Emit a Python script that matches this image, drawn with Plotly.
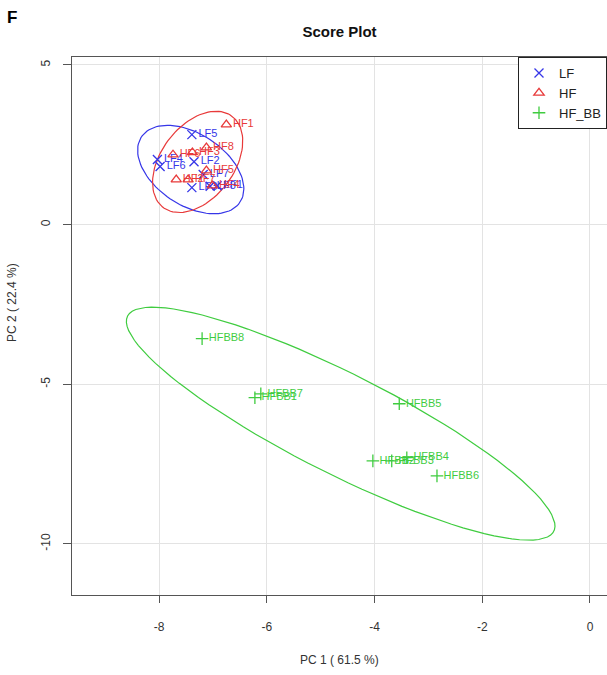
import numpy as np
import plotly.graph_objects as go

# PCA scores (PC1, PC2) per sample
lf_names = ["LF1", "LF2", "LF3", "LF4", "LF5", "LF6", "LF7", "LF8"]
lf_pc1 = [-6.92, -7.35, -7.39, -8.03, -7.39, -7.98, -7.18, -7.05]
lf_pc2 = [1.22, 1.97, 1.16, 2.04, 2.82, 1.82, 1.57, 1.20]

hf_names = ["HF1", "HF2", "HF3", "HF4", "HF5", "HF6", "HF7", "HF8"]
hf_pc1 = [-6.75, -7.68, -7.38, -7.01, -7.12, -7.74, -7.46, -7.12]
hf_pc2 = [3.13, 1.41, 2.26, 1.22, 1.69, 2.19, 1.41, 2.41]

bb_names = ["HFBB1", "HFBB2", "HFBB3", "HFBB4", "HFBB5", "HFBB6", "HFBB7", "HFBB8"]
bb_pc1 = [-6.22, -4.03, -3.68, -3.40, -3.54, -2.84, -6.11, -7.20]
bb_pc2 = [-5.42, -7.40, -7.40, -7.30, -5.61, -7.87, -5.30, -3.57]

x_ticks = [-8, -6, -4, -2, 0]
y_ticks = [5, 0, -5, -10]

COL_LF = "#3636E8"
COL_HF = "#E83A3A"
COL_BB = "#3FCC3F"
FONT = "Liberation Sans, Arial, sans-serif"

# plot area in pixels (left, top, right, bottom)
PL, PT, PR, PB = 72, 57, 607, 595
W, H = 607, 675


def px_x(px):
    return (px - PL) / (PR - PL)


def px_y(py):
    return (PB - py) / (PB - PT)


def conf_ellipse(x, y, level_t=np.sqrt(5.991464547), n=100):
    """95% confidence ellipse from the sample covariance (ellipse::ellipse style)."""
    x = np.asarray(x, float)
    y = np.asarray(y, float)
    cov = np.cov(x, y)
    sx, sy = np.sqrt(cov[0, 0]), np.sqrt(cov[1, 1])
    r = cov[0, 1] / (sx * sy)
    d = np.arccos(r)
    a = np.linspace(0, 2 * np.pi, n)
    ex = level_t * sx * np.cos(a + d / 2) + x.mean()
    ey = level_t * sy * np.cos(a - d / 2) + y.mean()
    return ex, ey


fig = go.Figure()

groups = [
    ("LF", lf_names, lf_pc1, lf_pc2, COL_LF, "x-thin-open"),
    ("HF", hf_names, hf_pc1, hf_pc2, COL_HF, "triangle-up-open"),
    ("HF_BB", bb_names, bb_pc1, bb_pc2, COL_BB, "cross-thin-open"),
]

for name, labels, px, py, col, sym in groups:
    ex, ey = conf_ellipse(px, py)
    fig.add_trace(go.Scatter(x=ex, y=ey, mode="lines", line=dict(color=col, width=1.2),
                             showlegend=False, hoverinfo="skip"))

for name, labels, px, py, col, sym in groups:
    fig.add_trace(go.Scatter(
        x=px, y=py, mode="markers+text", name=name, text=labels,
        textposition="middle right",
        textfont=dict(family=FONT, size=11, color=col),
        marker=dict(symbol=sym, size=9, color=col, line=dict(color=col, width=1.3)),
    ))

fig.update_layout(
    width=W, height=H,
    margin=dict(l=PL, r=W - PR, t=PT, b=H - PB),
    paper_bgcolor="white", plot_bgcolor="white",
    font=dict(family=FONT, color="#222"),
    title=dict(text="<b>Score Plot</b>", x=((PL + PR) / 2) / W, xanchor="center",
               y=1 - 32 / H, yanchor="middle", font=dict(size=15, color="#111")),
    legend=dict(x=1.0, xanchor="right", y=1, yanchor="top",
                bgcolor="white", bordercolor="#222", borderwidth=1,
                font=dict(size=13, family=FONT, color="#222"),
                tracegroupgap=0, itemwidth=30),
    annotations=[
        dict(text="<b>F</b>", x=px_x(12), y=px_y(18), xref="paper", yref="paper",
             xanchor="center", yanchor="middle", showarrow=False,
             font=dict(size=17, color="#000", family=FONT)),
        dict(text="PC 2 ( 22.4 %)", x=px_x(12), y=px_y(303), xref="paper", yref="paper",
             xanchor="center", yanchor="middle", showarrow=False, textangle=-90,
             font=dict(size=12, color="#333", family=FONT)),
        dict(text="PC 1 ( 61.5 %)", x=px_x(339.5), y=px_y(660), xref="paper", yref="paper",
             xanchor="center", yanchor="middle", showarrow=False,
             font=dict(size=12, color="#333", family=FONT)),
    ],
)

fig.update_xaxes(range=[-9.615, 0.316], tickvals=x_ticks, ticktext=[str(v) for v in x_ticks],
                 showgrid=True, gridcolor="#E3E3E3", gridwidth=1, zeroline=False,
                 showline=True, linecolor="#555", linewidth=1, mirror=True,
                 ticks="outside", ticklen=7, tickcolor="#555", ticklabelstandoff=14,
                 tickfont=dict(size=12, color="#333", family=FONT))
fig.update_yaxes(range=[-11.60, 5.25], tickvals=y_ticks, ticktext=[str(v) for v in y_ticks],
                 showgrid=True, gridcolor="#E3E3E3", gridwidth=1, zeroline=False,
                 showline=True, linecolor="#555", linewidth=1, mirror=True,
                 ticks="outside", ticklen=8, tickcolor="#555", tickangle=-90,
                 ticklabelstandoff=8,
                 tickfont=dict(size=12, color="#333", family=FONT))

fig.write_html("out.html")
